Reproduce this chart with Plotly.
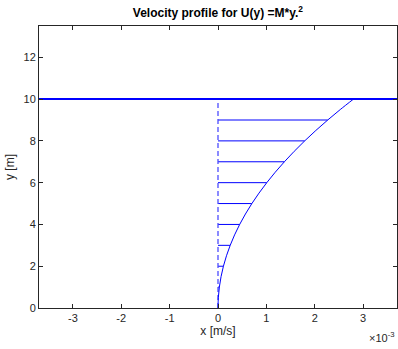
import plotly.graph_objects as go

# Velocity profile data, x in m/s, y in m
y_profile = [0, 0.5, 1, 1.5, 2, 2.5, 3, 3.5, 4, 4.5, 5, 5.5, 6, 6.5, 7, 7.5, 8, 8.5, 9, 9.5, 10]
u_profile = [0, 0.007e-3, 0.028e-3, 0.063e-3, 0.112e-3, 0.175e-3, 0.252e-3, 0.343e-3, 0.448e-3,
             0.567e-3, 0.700e-3, 0.847e-3, 1.008e-3, 1.183e-3, 1.372e-3, 1.575e-3, 1.792e-3,
             2.023e-3, 2.268e-3, 2.527e-3, 2.800e-3]
y_arrows = [1, 2, 3, 4, 5, 6, 7, 8, 9]
u_arrows = [0.028e-3, 0.112e-3, 0.252e-3, 0.448e-3, 0.700e-3, 1.008e-3, 1.372e-3, 1.792e-3, 2.268e-3]
wall_y = 10
x_range = [-3.7e-3, 3.7e-3]
y_range = [0, 13.5]
x_tickvals = [-3e-3, -2e-3, -1e-3, 0, 1e-3, 2e-3, 3e-3]
x_ticktext = ["-3", "-2", "-1", "0", "1", "2", "3"]
y_tickvals = [0, 2, 4, 6, 8, 10, 12]

fig = go.Figure()

# arrows
ax, ay = [], []
for u, y in zip(u_arrows, y_arrows):
    ax += [0, u, None]
    ay += [y, y, None]
fig.add_trace(go.Scatter(x=ax, y=ay, mode="lines", line=dict(color="#0000ff", width=1),
                         hoverinfo="skip", showlegend=False))
# dashed zero line
fig.add_trace(go.Scatter(x=[0, 0], y=[0, wall_y], mode="lines",
                         line=dict(color="#4d4dff", width=1.3, dash="5px,3px"), showlegend=False))
# profile curve
fig.add_trace(go.Scatter(x=u_profile, y=y_profile, mode="lines",
                         line=dict(color="#0000ff", width=1, shape="spline"), showlegend=False))
# wall line
fig.add_trace(go.Scatter(x=x_range, y=[wall_y, wall_y], mode="lines",
                         line=dict(color="#0000ff", width=2), showlegend=False))

axis_common = dict(showgrid=False, zeroline=False, showline=True, mirror="ticks",
                   linecolor="#262626", linewidth=1, ticks="inside", ticklen=4,
                   tickcolor="#262626", tickfont=dict(size=11, color="#262626"))

fig.update_layout(
    width=398, height=349,
    margin=dict(l=39, r=1, t=26, b=41),
    paper_bgcolor="white", plot_bgcolor="white",
    font=dict(family="Liberation Sans, Arial, sans-serif", color="#262626"),
    title=dict(text="<b>Velocity profile for U(y) =M*y.<sup>2</sup></b>",
               x=0.5475, xanchor="center", y=0.962, yanchor="middle",
               font=dict(size=12, color="black")),
    xaxis=dict(range=x_range, tickvals=x_tickvals, ticktext=x_ticktext,
               title=dict(text="x [m/s]", font=dict(size=12), standoff=0), **axis_common),
    yaxis=dict(range=y_range, tickvals=y_tickvals,
               title=dict(text="y [m]", font=dict(size=12), standoff=6), **axis_common),
    annotations=[dict(text="\u00d710<sup>-3</sup>", xref="paper", yref="paper",
                      x=1.0, y=-0.072, xanchor="right", yanchor="top", showarrow=False,
                      font=dict(size=11, color="#262626"))],
)

fig.write_html("out.html")
